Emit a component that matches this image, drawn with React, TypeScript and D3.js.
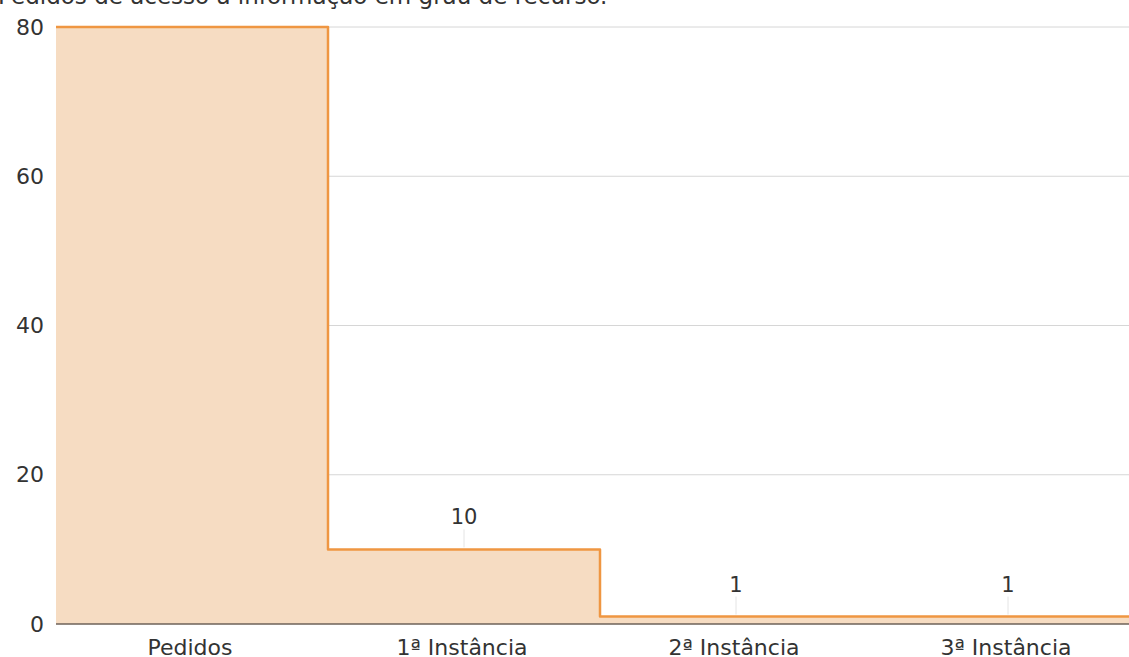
import React from "react";
import * as d3 from "d3";

const categories = ["Pedidos", "1ª Instância", "2ª Instância", "3ª Instância"];
const values = [80, 10, 1, 1];
const labelShown = [false, true, true, true];
const yTicks = [0, 20, 40, 60, 80];
const title = "Pedidos de acesso à informação em grau de recurso.";

const W = 1129;
const H = 657;
const FONT = "'DejaVu Sans', Verdana, sans-serif";

export default function App() {
  const left = 56;
  const right = 1144;
  const top = 27;
  const bottom = 624;

  const x = d3.scaleBand<string>().domain(categories).range([left, right]).padding(0);
  const y = d3.scaleLinear().domain([0, 80]).range([bottom, top]);

  type P = { xp: number; v: number };
  const pts: P[] = categories.map((c, i) => ({ xp: x(c)!, v: values[i] }));
  pts.push({ xp: right, v: values[values.length - 1] });

  const line = d3
    .line<P>()
    .x((d) => d.xp)
    .y((d) => y(d.v))
    .curve(d3.curveStepAfter);
  const area = d3
    .area<P>()
    .x((d) => d.xp)
    .y0(y(0))
    .y1((d) => y(d.v))
    .curve(d3.curveStepAfter);

  return (
    <svg
      width={W}
      height={H}
      style={{ position: "fixed", left: 0, top: 0, background: "#fff" }}
      fontFamily={FONT}
    >
      <text x={-2} y={4} fontSize={23} fill="#333">
        {title}
      </text>
      {yTicks.map((t) => (
        <g key={t}>
          {t !== 0 && (
            <line x1={left} x2={W} y1={y(t)} y2={y(t)} stroke="#d6d6d6" strokeWidth={1} />
          )}
          <text x={44} y={y(t)} dy="0.35em" textAnchor="end" fontSize={22} fill="#333">
            {t}
          </text>
        </g>
      ))}
      <path d={area(pts) || ""} fill="#f6dcc2" />
      <line x1={left} x2={W} y1={y(0)} y2={y(0)} stroke="#6e6258" strokeWidth={1.5} />
      <path
        d={line(pts) || ""}
        fill="none"
        stroke="#ef9642"
        strokeWidth={2.5}
        strokeLinejoin="round"
      />
      {categories.map((c, i) => {
        const cx = x(c)! + x.bandwidth() / 2;
        return (
          <g key={c}>
            {labelShown[i] && (
              <g>
                <line
                  x1={cx}
                  x2={cx}
                  y1={y(values[i]) - 20}
                  y2={y(values[i]) - 2}
                  stroke="#e4e4e4"
                  strokeWidth={1}
                />
                <text x={cx} y={y(values[i]) - 25} textAnchor="middle" fontSize={21} fill="#333">
                  {values[i]}
                </text>
              </g>
            )}
            <text x={cx - 2} y={655} textAnchor="middle" fontSize={22} fill="#333">
              {c}
            </text>
          </g>
        );
      })}
    </svg>
  );
}
